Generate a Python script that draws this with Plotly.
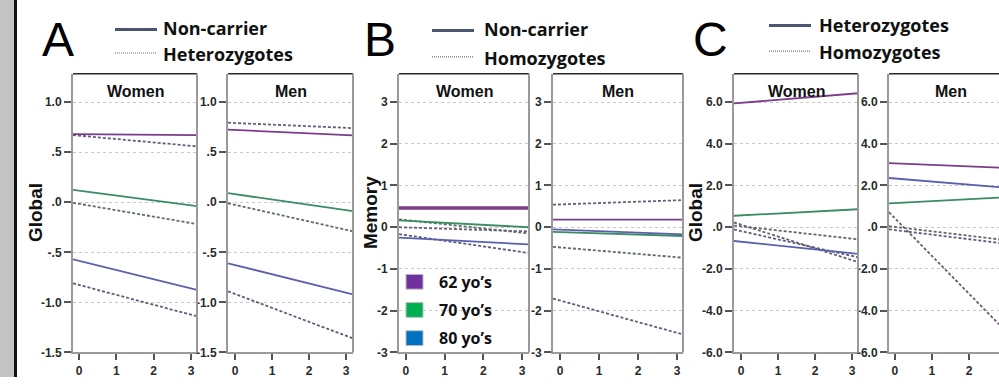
import plotly.graph_objects as go

W, H = 999, 384

# ---------------- data: regression lines (value at year 0, change per year) ----------------
ages = ["62 yo’s", "70 yo’s", "80 yo’s"]
years_ticks = [0, 1, 2, 3]

# Panel A (Global): Non-carrier (solid) vs Heterozygotes (dotted)
A_women_noncarrier_int = [0.680, 0.116, -0.585]
A_women_noncarrier_slope = [-0.003, -0.049, -0.092]
A_women_het_int = [0.665, -0.016, -0.826]
A_women_het_slope = [-0.034, -0.064, -0.099]
A_men_noncarrier_int = [0.722, 0.080, -0.627]
A_men_noncarrier_slope = [-0.017, -0.053, -0.092]
A_men_het_int = [0.791, -0.026, -0.916]
A_men_het_slope = [-0.016, -0.083, -0.139]

# Panel B (Memory): Non-carrier (solid) vs Homozygotes (dotted)
B_women_noncarrier_int = [0.46, 0.156, -0.259]
B_women_noncarrier_slope = [0.0, -0.049, -0.048]
B_women_hom_int = [-0.005, 0.172, -0.189]
B_women_hom_slope = [-0.030, -0.101, -0.135]
B_men_noncarrier_int = [0.18, -0.115, -0.056]
B_men_noncarrier_slope = [0.0, -0.030, -0.036]
B_men_hom_int = [0.546, -0.484, -1.756]
B_men_hom_slope = [0.033, -0.078, -0.258]

# Panel C (Global): Heterozygotes (solid) vs Homozygotes (dotted)
C_women_het_int = [5.958, 0.568, -0.695]
C_women_het_slope = [0.146, 0.093, -0.185]
C_women_hom_int = [0.122, 0.043, -0.185]
C_women_hom_slope = [-0.567, -0.197, -0.397]
C_men_het_int = [3.059, 1.155, 2.336]
C_men_het_slope = [-0.071, 0.094, -0.148]
C_men_hom_int = [0.431, 0.016, -0.135]
C_men_hom_slope = [-1.808, -0.212, -0.219]

A_yticks = [1.0, 0.5, 0.0, -0.5, -1.0, -1.5]
A_yticklabels = ["1.0", ".5", ".0", "-.5", "-1.0", "-1.5"]
B_yticks = [3, 2, 1, 0, -1, -2, -3]
B_yticklabels = ["3", "2", "1", "0", "-1", "-2", "-3"]
C_yticks = [6, 4, 2, 0, -2, -4, -6]
C_yticklabels = ["6.0", "4.0", "2.0", ".0", "-2.0", "-4.0", "-6.0"]

# ---------------- styling ----------------
solid_colors = ["#7b3c8a", "#3a8c62", "#5a5fae"]
dot_colors = ["#6a5c78", "#5c6c66", "#5e5c7c"]
legend_box_colors = ["#7030a0", "#00b050", "#0070c0"]


def px(x):
    return x / W


def py(y):
    return 1 - y / H


subplots = [
    dict(name="A", sex="Women", xd=(73, 197), xr=(-0.16, 3.16), yr=(-1.5, 1.284),
         ticks=A_yticks, labels=A_yticklabels,
         sol=(A_women_noncarrier_int, A_women_noncarrier_slope),
         dot=(A_women_het_int, A_women_het_slope)),
    dict(name="A", sex="Men", xd=(228, 353), xr=(-0.19, 3.19), yr=(-1.5, 1.284),
         ticks=A_yticks, labels=A_yticklabels,
         sol=(A_men_noncarrier_int, A_men_noncarrier_slope),
         dot=(A_men_het_int, A_men_het_slope)),
    dict(name="B", sex="Women", xd=(399, 529), xr=(-0.18, 3.18), yr=(-3, 3.68),
         ticks=B_yticks, labels=B_yticklabels,
         sol=(B_women_noncarrier_int, B_women_noncarrier_slope),
         dot=(B_women_hom_int, B_women_hom_slope)),
    dict(name="B", sex="Men", xd=(553, 683), xr=(-0.18, 3.15), yr=(-3, 3.68),
         ticks=B_yticks, labels=B_yticklabels,
         sol=(B_men_noncarrier_int, B_men_noncarrier_slope),
         dot=(B_men_hom_int, B_men_hom_slope)),
    dict(name="C", sex="Women", xd=(734, 858), xr=(-0.19, 3.16), yr=(-6, 7.36),
         ticks=C_yticks, labels=C_yticklabels,
         sol=(C_women_het_int, C_women_het_slope),
         dot=(C_women_hom_int, C_women_hom_slope)),
    dict(name="C", sex="Men", xd=(889, 999), xr=(-0.16, 2.81), yr=(-6, 7.36),
         ticks=C_yticks, labels=C_yticklabels,
         sol=(C_men_het_int, C_men_het_slope),
         dot=(C_men_hom_int, C_men_hom_slope)),
]

Y_TOP, Y_BOT = 75, 359

fig = go.Figure()
shapes = []
annotations = []

tickfont = dict(family="Liberation Sans Narrow, Liberation Sans, Arial, sans-serif",
                size=12, color="#2a2a2a", weight="bold")

for i, sp in enumerate(subplots, start=1):
    xa = "xaxis" if i == 1 else f"xaxis{i}"
    ya = "yaxis" if i == 1 else f"yaxis{i}"
    xref = "x" if i == 1 else f"x{i}"
    yref = "y" if i == 1 else f"y{i}"
    x0, x1 = sp["xr"]
    ints_d, slopes_d = sp["dot"]
    ints_s, slopes_s = sp["sol"]
    width_s = [3.5 if (sp["name"] == "B" and sp["sex"] == "Women") else 1.8, 1.8, 1.8]
    for k in range(3):
        fig.add_trace(go.Scatter(
            x=[x0, x1], y=[ints_d[k] + slopes_d[k] * x0, ints_d[k] + slopes_d[k] * x1],
            mode="lines", line=dict(color=dot_colors[k], width=1.8, dash="3px,2px"),
            xaxis=xref, yaxis=yref, showlegend=False, hoverinfo="skip"))
    for k in range(3):
        fig.add_trace(go.Scatter(
            x=[x0, x1], y=[ints_s[k] + slopes_s[k] * x0, ints_s[k] + slopes_s[k] * x1],
            mode="lines", line=dict(color=solid_colors[k], width=width_s[k]),
            xaxis=xref, yaxis=yref, showlegend=False, hoverinfo="skip"))

    fig.layout[xa] = dict(
        domain=[px(sp["xd"][0]), px(sp["xd"][1])], range=list(sp["xr"]),
        anchor=yref, tickvals=years_ticks, ticktext=[str(t) for t in years_ticks],
        ticks="outside", ticklen=6, tickwidth=1.5, tickcolor="#555",
        showline=True, linecolor="#9a9a9a", linewidth=2, showgrid=False,
        zeroline=False, tickfont=tickfont, fixedrange=True)
    fig.layout[ya] = dict(
        domain=[py(Y_BOT), py(Y_TOP)], range=list(sp["yr"]), anchor=xref,
        tickvals=sp["ticks"], ticktext=sp["labels"],
        ticks="outside", ticklen=7, tickwidth=1.5, tickcolor="#555",
        showline=True, linecolor="#9a9a9a", linewidth=2,
        showgrid=True, gridcolor="#c8c8c8", gridwidth=1.2, griddash="dot",
        zeroline=False, tickfont=tickfont, fixedrange=True)

    shapes.append(dict(type="line", xref="paper", yref="paper",
                       x0=px(sp["xd"][0]), x1=px(sp["xd"][1]), y0=py(Y_TOP), y1=py(Y_TOP),
                       line=dict(color="#2a2a2a", width=1.5)))
    if sp["xd"][1] < W:
        shapes.append(dict(type="line", xref="paper", yref="paper",
                           x0=px(sp["xd"][1]), x1=px(sp["xd"][1]), y0=py(Y_BOT), y1=py(Y_TOP),
                           line=dict(color="#9a9a9a", width=2)))
    annotations.append(dict(
        text=sp["sex"], xref="paper", yref="paper",
        x=px((sp["xd"][0] + sp["xd"][1]) / 2) if sp["xd"][1] < W else px(sp["xd"][0] + 62),
        y=py(93), xanchor="center", yanchor="middle", showarrow=False,
        font=dict(family="Liberation Sans, Arial, sans-serif", size=16, color="#111",
                  weight="bold")))

# left grey strip
shapes.append(dict(type="rect", xref="paper", yref="paper", x0=0, x1=px(14), y0=0, y1=1,
                   fillcolor="#c3c3c3", line=dict(width=0), layer="below"))
shapes.append(dict(type="line", xref="paper", yref="paper", x0=px(15.5), x1=px(15.5), y0=0, y1=1,
                   line=dict(color="#111", width=3)))

panel_info = [
    dict(letter="A", lx=58, legx=115, tx=161, sol_label="Non-carrier", dot_label="Heterozygotes",
         sy=30, dy=54, title="Global", titlex=35),
    dict(letter="B", lx=380, legx=432, tx=482, sol_label="Non-carrier", dot_label="Homozygotes",
         sy=31, dy=58, title="Memory", titlex=370),
    dict(letter="C", lx=710, legx=769, tx=817, sol_label="Heterozygotes", dot_label="Homozygotes",
         sy=26, dy=52, title="Global", titlex=695),
]
for p in panel_info:
    annotations.append(dict(text=p["letter"], xref="paper", yref="paper", x=px(p["lx"]), y=py(40),
                            xanchor="center", yanchor="middle", showarrow=False,
                            font=dict(family="Liberation Sans, Arial, sans-serif", size=48,
                                      color="#000")))
    shapes.append(dict(type="line", xref="paper", yref="paper",
                       x0=px(p["legx"]), x1=px(p["legx"] + 42), y0=py(p["sy"]), y1=py(p["sy"]),
                       line=dict(color="#4a5670", width=3)))
    shapes.append(dict(type="line", xref="paper", yref="paper",
                       x0=px(p["legx"]), x1=px(p["legx"] + 42), y0=py(p["dy"]), y1=py(p["dy"]),
                       line=dict(color="#6a7088", width=1.2, dash="1px,1px")))
    annotations.append(dict(text=p["sol_label"], xref="paper", yref="paper", x=px(p["tx"]),
                            y=py(p["sy"] - 1), xanchor="left", yanchor="middle", showarrow=False,
                            font=dict(family="Open Sans, sans-serif", size=18, color="#111",
                                      weight="bold")))
    annotations.append(dict(text=p["dot_label"], xref="paper", yref="paper", x=px(p["tx"]),
                            y=py(p["dy"] + 1), xanchor="left", yanchor="middle", showarrow=False,
                            font=dict(family="Open Sans, sans-serif", size=18, color="#111",
                                      weight="bold")))
    annotations.append(dict(text=p["title"], xref="paper", yref="paper", x=px(p["titlex"]),
                            y=py(217), xanchor="center", yanchor="middle", showarrow=False,
                            textangle=-90,
                            font=dict(family="Liberation Sans, Arial, sans-serif", size=19,
                                      color="#111", weight="bold")))

# age legend boxes inside panel B Women
for k, (lab, col) in enumerate(zip(ages, legend_box_colors)):
    yc = 287 + k * 28.7
    shapes.append(dict(type="rect", xref="paper", yref="paper",
                       x0=px(406), x1=px(423), y0=py(yc + 7.5), y1=py(yc - 7.5),
                       fillcolor=col, line=dict(color="#bbbbbb", width=1)))
    annotations.append(dict(text=lab, xref="paper", yref="paper", x=px(437), y=py(yc),
                            xanchor="left", yanchor="middle", showarrow=False,
                            font=dict(family="Open Sans, sans-serif", size=16, color="#111",
                                      weight="bold")))

fig.update_layout(
    width=W, height=H, margin=dict(l=0, r=0, t=0, b=0),
    paper_bgcolor="white", plot_bgcolor="white",
    shapes=shapes, annotations=annotations, showlegend=False,
)

fig.write_html("out.html")
